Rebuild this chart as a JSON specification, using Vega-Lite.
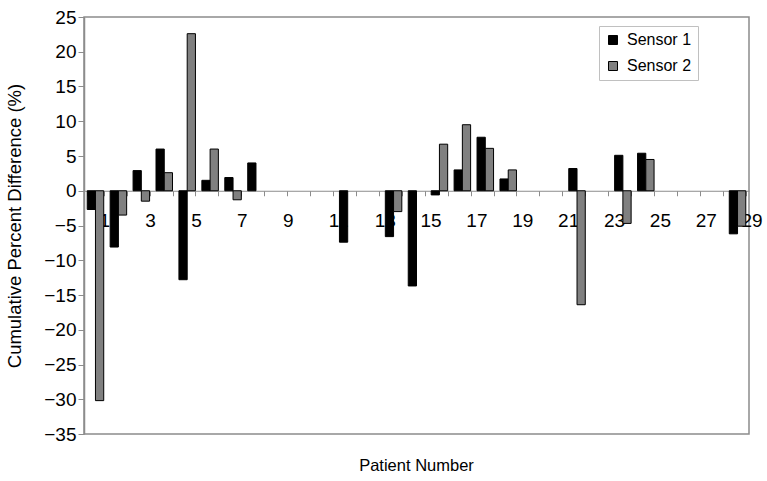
{
  "$schema": "https://vega.github.io/schema/vega-lite/v6.json",
  "width": 665,
  "height": 417,
  "autosize": "none",
  "padding": {"left": 84, "top": 17, "right": 18, "bottom": 47},
  "config": {
    "font": "Liberation Sans",
    "view": {"stroke": "#8c8c8c", "strokeWidth": 1.5},
    "axis": {"grid": false}
  },
  "title": {"text": "Patient Number", "orient": "bottom", "fontSize": 16.5, "fontWeight": "normal", "color": "#000", "offset": 14, "anchor": "middle"},
  "data": {
    "values": [
      {"patient": 1, "sensor": "Sensor 1", "value": -2.7},
      {"patient": 1, "sensor": "Sensor 2", "value": -30.2},
      {"patient": 2, "sensor": "Sensor 1", "value": -8.1},
      {"patient": 2, "sensor": "Sensor 2", "value": -3.5},
      {"patient": 3, "sensor": "Sensor 1", "value": 2.9},
      {"patient": 3, "sensor": "Sensor 2", "value": -1.5},
      {"patient": 4, "sensor": "Sensor 1", "value": 6.0},
      {"patient": 4, "sensor": "Sensor 2", "value": 2.6},
      {"patient": 5, "sensor": "Sensor 1", "value": -12.8},
      {"patient": 5, "sensor": "Sensor 2", "value": 22.6},
      {"patient": 6, "sensor": "Sensor 1", "value": 1.5},
      {"patient": 6, "sensor": "Sensor 2", "value": 6.0},
      {"patient": 7, "sensor": "Sensor 1", "value": 1.9},
      {"patient": 7, "sensor": "Sensor 2", "value": -1.3},
      {"patient": 8, "sensor": "Sensor 1", "value": 4.0},
      {"patient": 12, "sensor": "Sensor 1", "value": -7.4},
      {"patient": 14, "sensor": "Sensor 1", "value": -6.6},
      {"patient": 14, "sensor": "Sensor 2", "value": -3.0},
      {"patient": 15, "sensor": "Sensor 1", "value": -13.7},
      {"patient": 16, "sensor": "Sensor 1", "value": -0.6},
      {"patient": 16, "sensor": "Sensor 2", "value": 6.7},
      {"patient": 17, "sensor": "Sensor 1", "value": 3.0},
      {"patient": 17, "sensor": "Sensor 2", "value": 9.5},
      {"patient": 18, "sensor": "Sensor 1", "value": 7.7},
      {"patient": 18, "sensor": "Sensor 2", "value": 6.1},
      {"patient": 19, "sensor": "Sensor 1", "value": 1.7},
      {"patient": 19, "sensor": "Sensor 2", "value": 3.0},
      {"patient": 22, "sensor": "Sensor 1", "value": 3.2},
      {"patient": 22, "sensor": "Sensor 2", "value": -16.4},
      {"patient": 24, "sensor": "Sensor 1", "value": 5.1},
      {"patient": 24, "sensor": "Sensor 2", "value": -4.7},
      {"patient": 25, "sensor": "Sensor 1", "value": 5.4},
      {"patient": 25, "sensor": "Sensor 2", "value": 4.5},
      {"patient": 29, "sensor": "Sensor 1", "value": -6.2},
      {"patient": 29, "sensor": "Sensor 2", "value": -5.1}
    ]
  },
  "mark": {"type": "bar", "stroke": "#000", "strokeWidth": 1},
  "encoding": {
    "x": {
      "field": "patient",
      "type": "ordinal",
      "scale": {"domain": [1,2,3,4,5,6,7,8,9,10,11,12,13,14,15,16,17,18,19,20,21,22,23,24,25,26,27,28,29], "paddingInner": 0.28, "paddingOuter": 0.14},
      "axis": {
        "title": null,
        "orient": "bottom",
        "offset": -243.25,
        "domainColor": "#8c8c8c",
        "domainWidth": 1,
        "tickColor": "#8c8c8c",
        "tickSize": 5,
        "tickBand": "extent",
        "labelAngle": 0,
        "labelAlign": "left",
        "labelOffset": 3.5,
        "labelPadding": 16,
        "labelFontSize": 19,
        "labelColor": "#000",
        "labelOverlap": false,
        "labelExpr": "datum.value % 2 === 1 ? datum.label : ''"
      }
    },
    "xOffset": {"field": "sensor", "type": "nominal", "sort": ["Sensor 1", "Sensor 2"], "scale": {"paddingInner": 0, "paddingOuter": 0}},
    "y": {
      "field": "value",
      "type": "quantitative",
      "scale": {"domain": [-35, 25], "nice": false, "zero": false},
      "axis": {
        "title": "Cumulative Percent Difference (%)",
        "titleFontSize": 18.5,
        "titleFontWeight": "normal",
        "titleColor": "#000",
        "titlePadding": 19,
        "values": [-35,-30,-25,-20,-15,-10,-5,0,5,10,15,20,25],
        "domainColor": "#8c8c8c",
        "domainWidth": 1.5,
        "tickColor": "#8c8c8c",
        "tickSize": 6,
        "labelPadding": 2,
        "labelFontSize": 19,
        "labelColor": "#000"
      }
    },
    "color": {
      "field": "sensor",
      "type": "nominal",
      "scale": {"domain": ["Sensor 1", "Sensor 2"], "range": ["#000000", "#808080"]},
      "legend": {
        "title": null,
        "orient": "none",
        "legendX": 515,
        "legendY": 9,
        "symbolType": "square",
        "symbolSize": 81,
        "symbolStrokeColor": "#000",
        "symbolStrokeWidth": 1,
        "symbolOpacity": 1,
        "labelFontSize": 16,
        "labelColor": "#000",
        "strokeColor": "#c0c0c0",
        "fillColor": "#ffffff",
        "padding": 6,
        "rowPadding": 10,
        "labelOffset": 6
      }
    }
  }
}
